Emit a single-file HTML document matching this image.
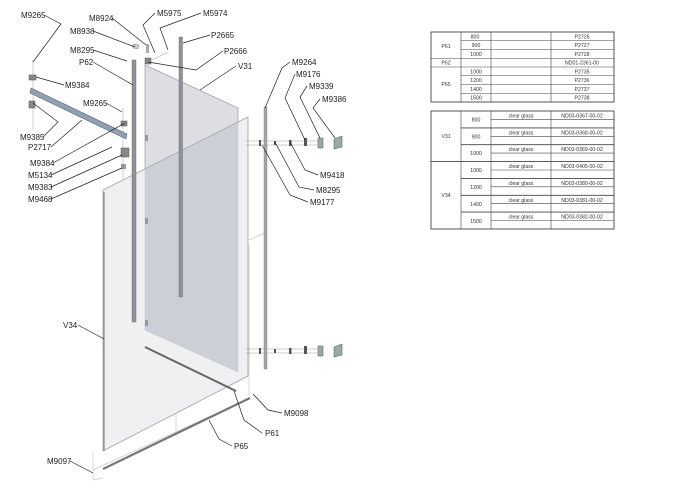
<!DOCTYPE html>
<html><head><meta charset="utf-8"><style>
html,body{margin:0;padding:0;background:#fff;width:700px;height:495px;overflow:hidden}
svg{display:block}
text{font-family:"Liberation Sans",sans-serif}
.l{font-size:8px;fill:#222}
.t{font-family:"Liberation Sans",sans-serif;font-size:5.2px;fill:#333;text-anchor:middle}
.ld{stroke:#222;stroke-width:0.7;fill:none}
</style></head><body>
<svg width="700" height="495" viewBox="0 0 700 495" xmlns="http://www.w3.org/2000/svg">
<g stroke="#c8c8c8" stroke-width="0.7" fill="none">
<line x1="249" y1="240" x2="265" y2="233"/>
<line x1="249" y1="245" x2="249" y2="395"/>
<line x1="93" y1="470" x2="250" y2="398"/>
<line x1="93" y1="452" x2="93" y2="480"/>
<line x1="176" y1="413" x2="176" y2="437"/>
<line x1="93" y1="480" x2="103" y2="478"/>
</g>
<!-- back panel V31 -->
<polygon points="145,65 238,108 238,372 145,330" fill="#dcdee2" stroke="#a0a5ad" stroke-width="0.8"/>
<!-- front panel V34 -->
<polygon points="103,190 248,117 248,376 103,451" fill="#e8eaed" fill-opacity="0.7" stroke="#9aa0a8" stroke-width="0.8"/>
<polygon points="145,169 238,122 238,372 145,330" fill="#b8bdc7" opacity="0.55"/>
<line x1="104" y1="192" x2="104" y2="451" stroke="#888" stroke-width="1.2"/>
<rect x="132" y="60" width="4" height="262" fill="#8e9298" stroke="#666" stroke-width="0.4"/>
<rect x="179" y="37" width="3.5" height="260" fill="#8e9298" stroke="#666" stroke-width="0.4"/>
<rect x="264" y="107" width="3" height="262" fill="#a4a7ab" stroke="#777" stroke-width="0.4"/>
<rect x="146" y="44" width="3" height="9" fill="#aaa"/>
<rect x="145" y="58" width="6" height="6" fill="#888" stroke="#555" stroke-width="0.5"/>
<polygon points="133,44 139,45 138,49 133,48" fill="#ccc" stroke="#888" stroke-width="0.5"/>
<line x1="150" y1="61" x2="168" y2="52" stroke="#aaa" stroke-width="0.6"/>
<rect x="145" y="135" width="3" height="6" fill="#999"/>
<rect x="145" y="218" width="3" height="6" fill="#999"/>
<rect x="145" y="320" width="3" height="6" fill="#999"/>
<line x1="33" y1="60" x2="33" y2="130" stroke="#bbb" stroke-width="0.7"/>
<line x1="123" y1="108" x2="123" y2="180" stroke="#bbb" stroke-width="0.7"/>
<rect x="29" y="75" width="7" height="5" fill="#888" stroke="#555" stroke-width="0.5"/>
<rect x="29" y="101" width="6" height="7" fill="#888" stroke="#555" stroke-width="0.5"/>
<polygon points="31,88 127,134 126,139 30,93" fill="#8fa0b4" stroke="#5a6676" stroke-width="0.6"/>
<rect x="121" y="121" width="6" height="5" fill="#888" stroke="#555" stroke-width="0.5"/>
<rect x="121" y="148" width="8" height="9" fill="#888" stroke="#555" stroke-width="0.5"/>
<rect x="121" y="164" width="5" height="5" fill="#999"/>
<line x1="145" y1="347" x2="236" y2="391" stroke="#666" stroke-width="2"/>
<line x1="103" y1="469" x2="250" y2="398" stroke="#777" stroke-width="2.2"/>
<g stroke="#999" stroke-width="0.5">
<line x1="246" y1="141" x2="322" y2="141"/><line x1="246" y1="145" x2="322" y2="145"/>
<line x1="246" y1="349" x2="322" y2="349"/><line x1="246" y1="353" x2="322" y2="353"/>
</g>
<g fill="#555">
<rect x="259" y="140" width="2" height="6"/><rect x="274" y="141" width="2" height="4"/><rect x="289" y="140" width="2.5" height="6"/><rect x="304" y="138" width="3" height="8"/>
<rect x="259" y="348" width="2" height="6"/><rect x="274" y="349" width="2" height="4"/><rect x="289" y="348" width="2.5" height="6"/><rect x="304" y="346" width="3" height="8"/>
</g>
<g fill="#9aa" stroke="#555" stroke-width="0.5">
<rect x="318" y="138" width="5" height="10"/><polygon points="334,139 342,136 342,147 334,149"/>
<rect x="318" y="346" width="5" height="10"/><polygon points="334,347 342,344 342,355 334,357"/>
</g>
<g class="ld">
<polyline points="44,15 61,24 33,62"/>
<polyline points="112,18 146,45"/>
<polyline points="155,13 143,25 155,53"/>
<polyline points="201,13 160,28 168,50"/>
<polyline points="93,31 135,47"/>
<polyline points="210,35 183,43"/>
<polyline points="93,50 127,61"/>
<polyline points="223,51 196,70 148,62"/>
<polyline points="93,62 133,85"/>
<polyline points="236,66 200,90"/>
<polyline points="290,62 282,68 265,108"/>
<polyline points="295,74 285,98 305,140"/>
<polyline points="64,85 36,77"/>
<polyline points="307,86 300,97 320,138"/>
<polyline points="320,99 313,108 335,138"/>
<polyline points="106,103 122,112"/>
<polyline points="43,137 58,122 33,103"/>
<polyline points="51,147 82,120"/>
<polyline points="53,163 125,123"/>
<polyline points="51,175 112,147"/>
<polyline points="318,175 305,170 290,142"/>
<polyline points="51,187 122,155"/>
<polyline points="314,190 299,187 275,142"/>
<polyline points="51,199 122,168"/>
<polyline points="308,202 290,195 262,145"/>
<polyline points="78,325 104,339"/>
<polyline points="282,413 268,410 253,394"/>
<polyline points="262,433 244,420 234,391"/>
<polyline points="232,446 219,439 209,420"/>
<polyline points="70,461 93,473"/>
</g>
<g class="l">
<text x="21" y="18">M9265</text>
<text x="89" y="21">M8924</text>
<text x="157" y="16">M5975</text>
<text x="203" y="16">M5974</text>
<text x="70" y="34">M8938</text>
<text x="211" y="38">P2665</text>
<text x="70" y="53">M8295</text>
<text x="224" y="54">P2666</text>
<text x="79" y="65">P62</text>
<text x="238" y="69">V31</text>
<text x="292" y="65">M9264</text>
<text x="296" y="77">M9176</text>
<text x="65" y="88">M9384</text>
<text x="309" y="89">M9339</text>
<text x="322" y="102">M9386</text>
<text x="83" y="106">M9265</text>
<text x="20" y="140">M9385</text>
<text x="28" y="150">P2717</text>
<text x="30" y="166">M9384</text>
<text x="28" y="178">M5134</text>
<text x="320" y="178">M9418</text>
<text x="28" y="190">M9383</text>
<text x="316" y="193">M8295</text>
<text x="28" y="202">M9468</text>
<text x="310" y="205">M9177</text>
<text x="63" y="328">V34</text>
<text x="284" y="416">M9098</text>
<text x="265" y="436">P61</text>
<text x="234" y="449">P65</text>
<text x="47" y="464">M9097</text>
</g>
<g stroke="#444" stroke-width="0.6" fill="none">
<rect x="431" y="32" width="183" height="70" stroke-width="0.9"/>
<line x1="461" y1="32" x2="461" y2="102"/><line x1="491" y1="32" x2="491" y2="102"/><line x1="551" y1="32" x2="551" y2="102"/>
<line x1="461" y1="40.75" x2="614" y2="40.75"/><line x1="461" y1="49.5" x2="614" y2="49.5"/>
<line x1="431" y1="58.25" x2="614" y2="58.25"/><line x1="431" y1="67" x2="614" y2="67"/>
<line x1="461" y1="75.75" x2="614" y2="75.75"/><line x1="461" y1="84.5" x2="614" y2="84.5"/><line x1="461" y1="93.25" x2="614" y2="93.25"/>
</g>
<g class="t">
<text x="446" y="48">P61</text><text x="475" y="38.5">800</text><text x="476" y="47.2">900</text><text x="476" y="56">1000</text>
<text x="582" y="38.5">P2726</text><text x="582" y="47.2">P2727</text><text x="582" y="56">P2728</text>
<text x="446" y="64.7">P62</text><text x="582" y="64.7">ND01-2361-00</text>
<text x="446" y="86">P65</text><text x="476" y="73.5">1000</text><text x="476" y="82.2">1200</text><text x="476" y="91">1400</text><text x="476" y="99.7">1500</text>
<text x="582" y="73.5">P2735</text><text x="582" y="82.2">P2736</text><text x="582" y="91">P2737</text><text x="582" y="99.7">P2738</text>
</g>
<g stroke="#444" stroke-width="0.6" fill="none">
<rect x="431" y="111" width="183" height="118" stroke-width="0.9"/>
<line x1="461" y1="111" x2="461" y2="229"/><line x1="491" y1="111" x2="491" y2="229"/><line x1="551" y1="111" x2="551" y2="229"/>
<line x1="431" y1="161.6" x2="614" y2="161.6" stroke-width="0.9"/>
<line x1="461" y1="127.9" x2="614" y2="127.9" stroke-width="0.9"/><line x1="461" y1="144.7" x2="614" y2="144.7" stroke-width="0.9"/>
<line x1="461" y1="178.4" x2="614" y2="178.4" stroke-width="0.9"/><line x1="461" y1="195.3" x2="614" y2="195.3" stroke-width="0.9"/><line x1="461" y1="212.1" x2="614" y2="212.1" stroke-width="0.9"/>
<line x1="491" y1="119.4" x2="614" y2="119.4"/><line x1="491" y1="136.3" x2="614" y2="136.3"/><line x1="491" y1="153.1" x2="614" y2="153.1"/>
<line x1="491" y1="170" x2="614" y2="170"/><line x1="491" y1="186.8" x2="614" y2="186.8"/><line x1="491" y1="203.7" x2="614" y2="203.7"/><line x1="491" y1="220.5" x2="614" y2="220.5"/>
</g>
<g class="t">
<text x="446" y="138">V31</text><text x="446" y="197">V34</text>
<text x="476" y="121.5">800</text><text x="476" y="138.3">900</text><text x="476" y="155">1000</text>
<text x="476" y="172">1000</text><text x="476" y="189">1200</text><text x="476" y="206">1400</text><text x="476" y="223">1500</text>
<text x="521" y="117.5">clear glass</text><text x="521" y="134.4">clear glass</text><text x="521" y="151.2">clear glass</text>
<text x="521" y="168">clear glass</text><text x="521" y="185">clear glass</text><text x="521" y="201.8">clear glass</text><text x="521" y="218.6">clear glass</text>
<text x="582" y="117.5">ND03-0367-00-02</text><text x="582" y="134.4">ND03-0368-00-02</text><text x="582" y="151.2">ND03-0369-00-02</text>
<text x="582" y="168">ND03-0405-00-02</text><text x="582" y="185">ND03-0380-00-02</text><text x="582" y="201.8">ND03-0381-00-02</text><text x="582" y="218.6">ND03-0382-00-02</text>
</g>
</svg>
</body></html>
